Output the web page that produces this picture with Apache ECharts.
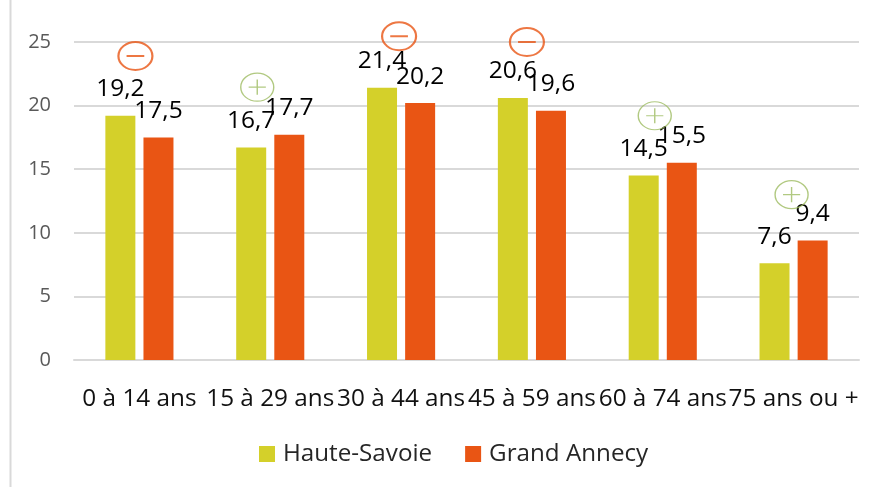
<!DOCTYPE html>
<html><head><meta charset="utf-8">
<style>html,body{margin:0;padding:0;background:#fff}#c{width:875px;height:487px}</style>
<script src="https://cdn.jsdelivr.net/npm/echarts@6/dist/echarts.min.js"></script>
</head><body><div id="c"></div>
<script>
const categories = ['0 à 14 ans','15 à 29 ans','30 à 44 ans','45 à 59 ans','60 à 74 ans','75 ans ou +'];
const hauteSavoie = [19.2,16.7,21.4,20.6,14.5,7.6];
const grandAnnecy = [17.5,17.7,20.2,19.6,15.5,9.4];
const yTicks = [0,5,10,15,20,25];
// annotation badges: category, height on the value scale, sign, sideways nudge
const badgeCats = [0,1,2,3,4,5];
const badgeY = [23.9,21.45,25.45,25,19.2,13];
const badgeSign = ['-','+','-','-','+','+'];
const badgeNudge = [-4,-13,-2,-5,-8,-2];

const FONT = '"Open Sans"';
const ring = 'M50 2A48 48 0 1 1 50 98A48 48 0 1 1 50 2Z';
const minusPath = 'path://' + ring + 'M25 50L75 50';
const plusPath = 'path://' + ring + 'M25 50L75 50M50 24L50 76';
const fmt = p => String(p.value).replace('.', ',');
const barLabel = {show:true,position:'top',distance:14,formatter:fmt,fontFamily:FONT,fontSize:24.5,color:'#000'};

const chart = echarts.init(document.getElementById('c'),null,{renderer:'canvas'});
chart.setOption({
  animation:false,
  backgroundColor:'#fff',
  grid:{left:74,right:16,top:42,bottom:127,containLabel:false},
  legend:{data:['Haute-Savoie','Grand Annecy'],left:254,top:437,itemWidth:16,itemHeight:16,itemGap:33,
    icon:'rect',textStyle:{fontFamily:FONT,fontSize:24.2,color:'#262626',padding:[0,0,0,3]}},
  xAxis:{type:'category',data:categories,axisTick:{show:false},
    axisLine:{lineStyle:{color:'#d9d9d9',width:2}},
    axisLabel:{interval:0,margin:27,fontFamily:FONT,fontSize:24.3,color:'#111',hideOverlap:false}},
  yAxis:{type:'value',min:0,max:25,interval:5,axisLine:{show:false},axisTick:{show:false},
    splitLine:{lineStyle:{color:'#d9d9d9',width:2}},
    axisLabel:{margin:23,fontFamily:FONT,fontSize:20,color:'#595959',formatter:v=>yTicks.includes(v)?String(v):''}},
  series:[
    {name:'Haute-Savoie',type:'bar',data:hauteSavoie,barWidth:30,barGap:'27%',itemStyle:{color:'#d4d02a'},label:barLabel,z:2},
    {name:'Grand Annecy',type:'bar',data:grandAnnecy,barWidth:30,itemStyle:{color:'#e95514'},label:barLabel,z:2},
    {name:'badges',type:'scatter',clip:false,z:5,
     data:badgeCats.map((c,i)=>{
       const neg = badgeSign[i]==='-';
       const col = neg ? '#e95514' : '#9dbb61';
       return {value:[c,badgeY[i]],symbol:neg?minusPath:plusPath,symbolSize:neg?[34,28]:[33,28],
         symbolOffset:[badgeNudge[i],0],
         itemStyle:{color:'none',borderColor:col,borderWidth:neg?2:1.3}};
     }),
     tooltip:{show:false}}
  ],
  graphic:[{type:'line',shape:{x1:10.5,y1:0,x2:10.5,y2:487},style:{stroke:'#d9d9d9',lineWidth:2},silent:true}]
});
</script></body></html>
